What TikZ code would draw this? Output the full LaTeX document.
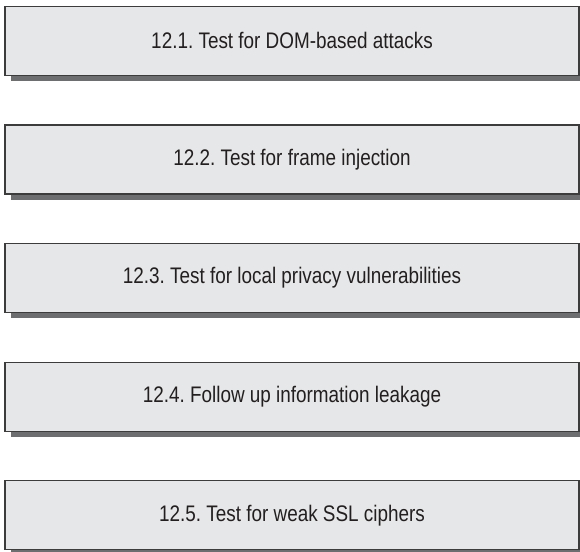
\documentclass[tikz,border=0pt]{standalone}
\usepackage{fontspec}
\setmainfont{Liberation Sans}[FakeStretch=0.84]
\usetikzlibrary{shadows}
\definecolor{boxFill}{HTML}{E6E7E8}
\definecolor{boxLine}{HTML}{3C3C3C}
\definecolor{boxShade}{HTML}{6D6E70}
\definecolor{txtGray}{HTML}{231F20}
\tikzset{stepbox/.style={draw=boxLine,line width=1.4pt,fill=boxFill,
  minimum width=574pt,minimum height=69pt,inner sep=0pt,text=txtGray,
  general shadow={shadow xshift=6pt,shadow yshift=-6pt,fill=boxShade}}}
\frenchspacing

\begin{document}
\begin{tikzpicture}[x=1pt,y=-1pt,font=\fontsize{22.5}{26}\selectfont]
\useasboundingbox (0,0) rectangle (580,551);
\foreach \i/\y/\lab in {1/40.8/12.1. Test for DOM-based attacks,
                        2/159.3/12.2. Test for frame injection,
                        3/277.8/12.3. Test for local privacy vulnerabilities,
                        4/396.8/12.4. Follow up information leakage,
                        5/515.2/12.5. Test for weak SSL ciphers}
  \node[stepbox] (task\i) at (292,\y) {\lab};
\end{tikzpicture}
\end{document}
